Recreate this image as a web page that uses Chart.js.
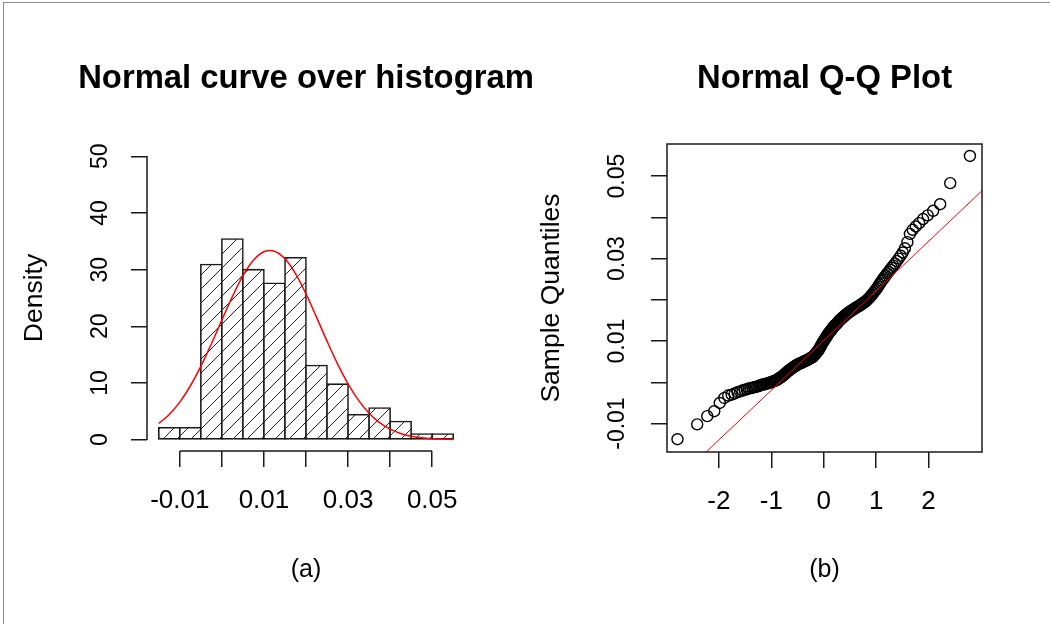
<!DOCTYPE html>
<html><head><meta charset="utf-8">
<script src="https://cdn.jsdelivr.net/npm/chart.js@4.4.1/dist/chart.umd.min.js"></script>
<style>
html,body{margin:0;padding:0;background:#fff;}
#wrap{position:relative;width:1050px;height:624px;overflow:hidden;background:#fff;}
#frame{position:absolute;left:3px;top:2px;width:1100px;height:700px;border-top:1px solid #8a8a8a;border-left:1px solid #8a8a8a;}
#c1{position:absolute;left:0;top:0;width:580px;height:624px;}
#c2{position:absolute;left:525px;top:0;width:525px;height:624px;}
</style></head><body>
<div id="wrap">
<div id="frame"></div>
<canvas id="c1" width="580" height="624"></canvas>
<canvas id="c2" width="525" height="624"></canvas>
</div>
<script>
// ---------- data: histogram (a) ----------
const histBinEdges = [-0.015,-0.010,-0.005,0.000,0.005,0.010,0.015,0.020,0.025,0.030,0.035,0.040,0.045,0.050,0.055];
const histDensity  = [2.1,2.1,30.9,35.4,30.0,27.6,32.1,13.1,9.8,4.4,5.6,3.2,1.0,1.0];
const curveX = [-0.015,-0.0125,-0.010,-0.0075,-0.005,-0.0025,0.000,0.0025,0.005,0.0075,0.010,0.0125,0.015,0.0175,0.020,0.0225,0.025,0.0275,0.030,0.0325,0.035,0.0375,0.040,0.0425,0.045,0.0475,0.050,0.0525,0.055];
const curveY = [2.85,4.45,6.63,9.47,12.92,16.89,21.11,25.24,28.90,31.65,33.17,33.26,31.91,29.29,25.72,21.62,17.38,13.37,9.85,6.94,4.67,3.01,1.86,1.10,0.62,0.33,0.17,0.09,0.04];
const histXTicks = [-0.01,0.00,0.01,0.02,0.03,0.04,0.05];
const histXTickLabels = ['-0.01','','0.01','','0.03','','0.05'];
const histYTicks = [0,10,20,30,40,50];
const histYTickLabels = ['0','10','20','30','40','50'];

// ---------- data: Q-Q plot (b) ----------
const qqTheoretical = [
-2.790,-2.414,-2.222,-2.088,-1.983,-1.896,-1.822,-1.757,-1.698,-1.645,
-1.596,-1.550,-1.508,-1.468,-1.430,-1.395,-1.360,-1.328,-1.297,-1.267,
-1.238,-1.210,-1.183,-1.157,-1.131,-1.107,-1.083,-1.060,-1.036,-1.014,
-0.992,-0.971,-0.950,-0.930,-0.909,-0.890,-0.870,-0.851,-0.832,-0.814,
-0.795,-0.778,-0.760,-0.742,-0.725,-0.708,-0.691,-0.674,-0.658,-0.642,
-0.626,-0.610,-0.594,-0.578,-0.563,-0.547,-0.532,-0.517,-0.502,-0.487,
-0.472,-0.457,-0.443,-0.428,-0.414,-0.400,-0.385,-0.371,-0.357,-0.343,
-0.329,-0.315,-0.301,-0.288,-0.274,-0.260,-0.246,-0.233,-0.219,-0.206,
-0.192,-0.179,-0.166,-0.152,-0.139,-0.126,-0.112,-0.099,-0.086,-0.073,
-0.059,-0.046,-0.033,-0.020,-0.007,
0.007,0.020,0.033,0.046,0.059,0.073,0.086,0.099,0.112,0.126,
0.139,0.152,0.166,0.179,0.192,0.206,0.219,0.233,0.246,0.260,
0.274,0.288,0.301,0.315,0.329,0.343,0.357,0.371,0.385,0.400,
0.414,0.428,0.443,0.457,0.472,0.487,0.502,0.517,0.532,0.547,
0.563,0.578,0.594,0.610,0.626,0.642,0.658,0.674,0.691,0.708,
0.725,0.742,0.760,0.778,0.795,0.814,0.832,0.851,0.870,0.890,
0.909,0.930,0.950,0.971,0.992,1.014,1.036,1.060,1.083,1.107,
1.131,1.157,1.183,1.210,1.238,1.267,1.297,1.328,1.360,1.395,
1.430,1.468,1.508,1.550,1.596,1.645,1.698,1.757,1.822,1.896,
1.983,2.088,2.222,2.414,2.790];
const qqSample = [
-0.0138,-0.0102,-0.0082,-0.0070,-0.0050,-0.0038,-0.0032,-0.0030,-0.0027,-0.0024,
-0.0022,-0.0020,-0.0018,-0.0017,-0.0015,-0.0014,-0.0013,-0.0012,-0.0011,-0.0010,
-0.0009,-0.0007,-0.0006,-0.0005,-0.0005,-0.0004,-0.0003,-0.0002,-0.0001,0.0000,
0.0000,0.0002,0.0003,0.0004,0.0005,0.0006,0.0008,0.0010,0.0011,0.0013,
0.0014,0.0016,0.0018,0.0020,0.0022,0.0024,0.0026,0.0028,0.0029,0.0031,
0.0032,0.0034,0.0035,0.0037,0.0038,0.0039,0.0040,0.0042,0.0043,0.0044,
0.0045,0.0046,0.0046,0.0047,0.0048,0.0049,0.0050,0.0051,0.0052,0.0052,
0.0053,0.0054,0.0055,0.0056,0.0057,0.0058,0.0059,0.0060,0.0061,0.0062,
0.0064,0.0066,0.0068,0.0070,0.0072,0.0074,0.0076,0.0078,0.0081,0.0084,
0.0087,0.0090,0.0093,0.0096,0.0099,
0.0101,0.0104,0.0107,0.0109,0.0112,0.0115,0.0117,0.0120,0.0122,0.0124,
0.0126,0.0128,0.0131,0.0133,0.0135,0.0137,0.0139,0.0140,0.0142,0.0144,
0.0146,0.0148,0.0150,0.0152,0.0153,0.0155,0.0157,0.0158,0.0160,0.0162,
0.0163,0.0164,0.0166,0.0167,0.0169,0.0170,0.0172,0.0173,0.0174,0.0175,
0.0177,0.0178,0.0179,0.0181,0.0182,0.0183,0.0184,0.0185,0.0187,0.0188,
0.0190,0.0191,0.0193,0.0194,0.0196,0.0198,0.0200,0.0203,0.0205,0.0208,
0.0211,0.0214,0.0217,0.0221,0.0224,0.0228,0.0232,0.0237,0.0241,0.0246,
0.0250,0.0255,0.0259,0.0264,0.0268,0.0273,0.0278,0.0283,0.0288,0.0294,
0.0300,0.0307,0.0315,0.0325,0.0340,0.0360,0.0370,0.0378,0.0386,0.0396,
0.0405,0.0416,0.0432,0.0483,0.0549];
const qqLineX = [-3.2, 3.2];
const qqLineY = [-0.02843, 0.04863];
const qqXTicks = [-2,-1,0,1,2];
const qqXTickLabels = ['-2','-1','0','1','2'];
const qqYTicks = [-0.01,0.00,0.01,0.02,0.03,0.04,0.05];
const qqYTickLabels = ['-0.01','','0.01','','0.03','','0.05'];

// ---------- styling ----------
const FAM = '"Liberation Sans", Arial, Helvetica, sans-serif';
const INK = '#1a1a1a';
const LW = 1.5;
Chart.defaults.font.family = FAM;
Chart.defaults.color = '#000';
Chart.defaults.animation = false;

function hatchPattern(ctx){
  const s = 14, t = document.createElement('canvas');
  t.width = s; t.height = s;
  const g = t.getContext('2d');
  g.fillStyle = '#fff'; g.fillRect(0,0,s,s);
  g.strokeStyle = '#222'; g.lineWidth = 1;
  g.beginPath();
  g.moveTo(-1, s+1); g.lineTo(s+1, -1);
  g.moveTo(-s/2-1, s/2+1); g.lineTo(s/2+1, -s/2-1);
  g.moveTo(s/2-1, s*1.5+1); g.lineTo(s*1.5+1, s/2-1);
  g.stroke();
  return ctx.createPattern(t, 'repeat');
}

function fixedTicks(values){ return s => { s.ticks = values.map(v => ({value: v})); }; }

function axisOpts(o){
  return Object.assign({
    type: 'linear', offset: false,
    border: {display: false},
    grid: {display: true, drawOnChartArea: false, drawTicks: true, tickLength: 16, color: INK, lineWidth: LW, offset: false}
  }, o);
}

// main title centred over the plot region (as R does)
const plotTitle = {
  id: 'plotTitle',
  afterDraw(chart, args, opts){
    const {ctx, chartArea: a} = chart;
    ctx.save();
    ctx.font = 'bold 32.8px ' + FAM;
    ctx.fillStyle = '#000';
    ctx.textAlign = 'center';
    ctx.textBaseline = 'middle';
    ctx.fillText(opts.text, (a.left + a.right) / 2, opts.y);
    ctx.restore();
  }
};

// ---------- chart (a) ----------
const c1 = document.getElementById('c1');
const ctx1 = c1.getContext('2d');
const histAxes = {
  id: 'histAxes',
  afterDraw(chart){
    const {ctx, chartArea: a, scales: {x, y}} = chart;
    ctx.save();
    ctx.strokeStyle = INK; ctx.lineWidth = LW;
    ctx.beginPath();
    const yb = Math.round(a.bottom);
    ctx.moveTo(Math.round(x.getPixelForValue(histXTicks[0])), yb);
    ctx.lineTo(Math.round(x.getPixelForValue(histXTicks[histXTicks.length-1])), yb);
    const xl = Math.round(a.left);
    ctx.moveTo(xl, Math.round(y.getPixelForValue(histYTicks[0])));
    ctx.lineTo(xl, Math.round(y.getPixelForValue(histYTicks[histYTicks.length-1])));
    ctx.stroke();
    ctx.restore();
  }
};
new Chart(ctx1, {
  type: 'bar',
  data: {
    datasets: [
      {
        type: 'line', order: 0,
        data: curveX.map((v,i) => ({x: v, y: curveY[i]})),
        borderColor: '#ff0000', borderWidth: 1.5, pointRadius: 0, tension: 0.4, fill: false
      },
      {
        type: 'bar', order: 1,
        data: histDensity.map((d,i) => ({x: (histBinEdges[i]+histBinEdges[i+1])/2, y: d})),
        backgroundColor: hatchPattern(ctx1), borderColor: INK, borderWidth: 1.6,
        inflateAmount: 0.8, barPercentage: 1, categoryPercentage: 1, borderSkipped: false
      }
    ]
  },
  options: {
    responsive: false, animation: false,
    layout: {padding: {left: 0, right: 115, top: 145, bottom: 0}},
    plugins: {
      legend: {display: false}, tooltip: {enabled: false}, title: {display: false},
      plotTitle: {text: 'Normal curve over histogram', y: 79}
    },
    scales: {
      x: axisOpts({
        min: -0.0178, max: 0.0578,
        afterBuildTicks: fixedTicks(histXTicks),
        afterFit: s => { s.height = 173; },
        ticks: {autoSkip: false, maxRotation: 0, minRotation: 0, padding: 18, color: '#000',
          font: {size: 26, family: FAM}, callback: (v, i) => histXTickLabels[i]},
        title: {display: true, text: '(a)', color: '#000', font: {size: 25, family: FAM}, padding: {top: 0, bottom: 39}}
      }),
      y: axisOpts({
        min: -2, max: 52,
        afterBuildTicks: fixedTicks(histYTicks),
        afterFit: s => { s.width = 147; },
        ticks: {autoSkip: false, minRotation: 90, maxRotation: 90, crossAlign: 'center', padding: 18, color: '#000',
          font: {size: 23, family: FAM}, callback: (v, i) => histYTickLabels[i]},
        title: {display: true, text: 'Density', color: '#000', font: {size: 26.5, family: FAM}, padding: {top: 19, bottom: 0}}
      })
    }
  },
  plugins: [histAxes, plotTitle]
});

// ---------- chart (b) ----------
const c2 = document.getElementById('c2');
const ctx2 = c2.getContext('2d');
const boxPlugin = {
  id: 'boxPlugin',
  afterDraw(chart){
    const {ctx, chartArea: a} = chart;
    ctx.save();
    ctx.strokeStyle = INK; ctx.lineWidth = LW;
    ctx.strokeRect(Math.round(a.left), Math.round(a.top), Math.round(a.right - a.left), Math.round(a.bottom - a.top));
    ctx.restore();
  }
};
new Chart(ctx2, {
  type: 'scatter',
  data: {
    datasets: [
      {
        order: 0, showLine: true,
        data: qqLineX.map((v,i) => ({x: v, y: qqLineY[i]})),
        borderColor: '#ff0000', borderWidth: 1, pointRadius: 0
      },
      {
        order: 1,
        data: qqTheoretical.map((v,i) => ({x: v, y: qqSample[i]})),
        pointStyle: 'circle', pointRadius: 5.5, borderWidth: 1.4,
        borderColor: '#000', backgroundColor: 'rgba(0,0,0,0)'
      }
    ]
  },
  options: {
    responsive: false, animation: false,
    layout: {padding: {left: 0, right: 68, top: 144, bottom: 0}},
    plugins: {
      legend: {display: false}, tooltip: {enabled: false}, title: {display: false},
      plotTitle: {text: 'Normal Q-Q Plot', y: 79}
    },
    scales: {
      x: axisOpts({
        min: -2.99, max: 3.02,
        afterBuildTicks: fixedTicks(qqXTicks),
        afterFit: s => { s.height = 172; },
        ticks: {autoSkip: false, maxRotation: 0, minRotation: 0, padding: 18, color: '#000',
          font: {size: 26, family: FAM}, callback: (v, i) => qqXTickLabels[i]},
        title: {display: true, text: '(b)', color: '#000', font: {size: 25, family: FAM}, padding: {top: 0, bottom: 39}}
      }),
      y: axisOpts({
        min: -0.0169, max: 0.0578,
        afterBuildTicks: fixedTicks(qqYTicks),
        afterFit: s => { s.width = 142; },
        ticks: {autoSkip: false, minRotation: 90, maxRotation: 90, crossAlign: 'center', padding: 7, color: '#000',
          font: {size: 23, family: FAM}, callback: (v, i) => qqYTickLabels[i]},
        title: {display: true, text: 'Sample Quantiles', color: '#000', font: {size: 26.5, family: FAM}, padding: {top: 11, bottom: 0}}
      })
    }
  },
  plugins: [boxPlugin, plotTitle]
});
</script>
</body></html>
